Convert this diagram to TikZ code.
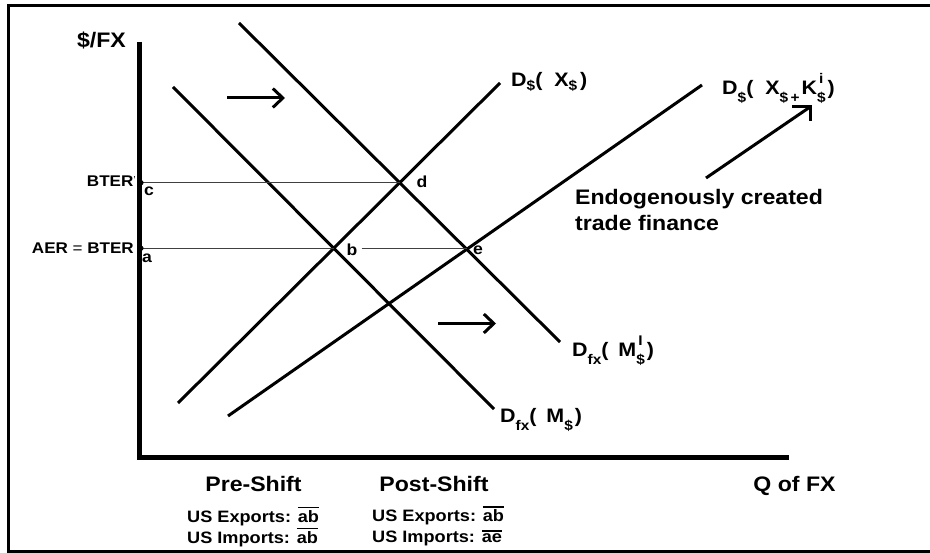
\documentclass[tikz,border=0pt]{standalone}
\usepackage{fontspec}
\setmainfont{Liberation Sans}[FakeStretch=1.1]
\usetikzlibrary{arrows.meta,intersections,calc}
\newcommand\lo[2][7.5]{\raisebox{-#1pt}{\fontsize{14}{14}\selectfont #2}}
\newcommand\lohi[2]{\makebox[8.5pt][l]{\makebox[0pt][l]{\raisebox{-7.5pt}{\fontsize{14}{14}\selectfont #1}}\makebox[8.5pt][c]{\raisebox{11.5pt}{\fontsize{14}{14}\selectfont #2}}}}
\newcommand\ovl[1]{\leavevmode\vbox{\hrule height 1.5pt\kern1.6pt\hbox{#1}}}
\begin{document}
\begin{tikzpicture}[x=1pt,y=-1pt,
  curve/.style={line width=3pt},
  guide/.style={line width=1.3pt,black!75},
  big/.style={inner sep=0pt,font=\bfseries\fontsize{21}{26}\selectfont},
  small/.style={inner sep=0pt,font=\bfseries\fontsize{16.5}{20}\selectfont},
  axlab/.style={inner sep=0pt,font=\bfseries\fontsize{15.5}{18}\selectfont},
  pt/.style={inner sep=0pt,font=\bfseries\fontsize{16}{18}\selectfont},
  clab/.style={inner sep=0pt,font=\bfseries\fontsize{19.5}{22}\selectfont},
  shiftarrow/.style={line width=3pt,-{Straight Barb[length=10pt,width=19pt]}}]
\useasboundingbox (0,0) rectangle (930,553);
% frame
\draw[line width=3pt] (940,6) -- (8.5,6) -- (8.5,551.5) -- (940,551.5);
% axes
\coordinate (ax) at (139,0);
\draw[line width=5pt] (139,42) -- (139,457.5) -- (789,457.5);
% curves
\draw[curve,name path=L1] (178,403) -- (500,83);
\draw[curve,name path=L2] (228,416) -- (702,85);
\draw[curve,name path=L3] (173,87) -- (494,409);
\draw[curve,name path=L4] (239,23) -- (560,342);
\path[name intersections={of=L1 and L3,by=b}];
\path[name intersections={of=L1 and L4,by=d}];
\path[name intersections={of=L2 and L4,by=e}];
% guides
\draw[guide] (ax |- d) -- (d);
\draw[guide] (ax |- b) -- (b);
\coordinate (bgap) at ($(b)+(28,0)$);
\draw[guide] (bgap) -- (e |- b);
\fill ($(ax |- d)+(2,0)$) circle (2.6);
\fill ($(ax |- b)+(2,0)$) circle (2.6);
% point labels
\node[pt,anchor=base] (lc) at (149,196) {c};
\node[pt,anchor=base] (la) at (147,263) {a};
\node[pt,anchor=base] (lb) at (352,256) {b};
\node[pt,anchor=base] (ld) at (422,188) {d};
\node[pt,anchor=base] (le) at (478,255) {e};
% axis labels
\node[big,anchor=base] (yl) at (101.5,48) {\$/FX};
\node[big,anchor=base] (xl) at (794.5,492) {Q of FX};
\node[axlab,anchor=base east] (bter2) at (136,187) {BTER\raisebox{3pt}{\fontsize{10}{10}\selectfont\mdseries'}};
\node[axlab,anchor=base east] (aer) at (134,254) {AER {\mdseries=} BTER};
% curve labels
\node[clab,anchor=base west] (c1) at (511,87) {D\lo[4]{\$}(\hspace{6pt} X\lo[4]{\$}\hspace{3pt})};
\node[clab,anchor=base west] (c2) at (722,95) {D\lo{\$}(\hspace{6pt} X\lo{\$\,+}\hspace{2pt}K\lohi{\$}{i}\hspace{2pt})};
\node[clab,anchor=base west] (c4) at (572,357) {D\lo{fx}(\hspace{4pt} M\lohi{\$}{I}\hspace{2pt})};
\node[clab,anchor=base west] (c3) at (500,423) {D\lo{fx}(\hspace{4pt} M\lo{\$}\hspace{2pt})};
% shift arrows
\coordinate (s1a) at (227,98); \coordinate (s1b) at (285,98);
\draw[shiftarrow] (s1a) -- (s1b);
\coordinate (s2a) at (438,323.5); \coordinate (s2b) at (496,323.5);
\draw[shiftarrow] (s2a) -- (s2b);
% endogenous arrow
\coordinate (ea) at (706,178); \coordinate (eb) at (810,107);
\draw[line width=3pt] (ea) -- (eb);
\draw[line width=3pt,miter limit=10] (792,107) -- (eb) -- (810,121);
\node[big,anchor=base west,align=left] (endo) at (575,231) {Endogenously created\\trade finance};
% bottom text
\node[big,anchor=base] (pre) at (253.5,492) {Pre-Shift};
\node[big,anchor=base] (post) at (434,492) {Post-Shift};
\node[small,anchor=base west] (pre1) at (187,522) {US Exports: \ovl{ab}};
\node[small,anchor=base west] (pre2) at (187,543) {US Imports: \ovl{ab}};
\node[small,anchor=base west] (post1) at (372,521.5) {US Exports: \ovl{ab}};
\node[small,anchor=base west] (post2) at (372,542) {US Imports: \ovl{ae}};
\end{tikzpicture}
\end{document}
